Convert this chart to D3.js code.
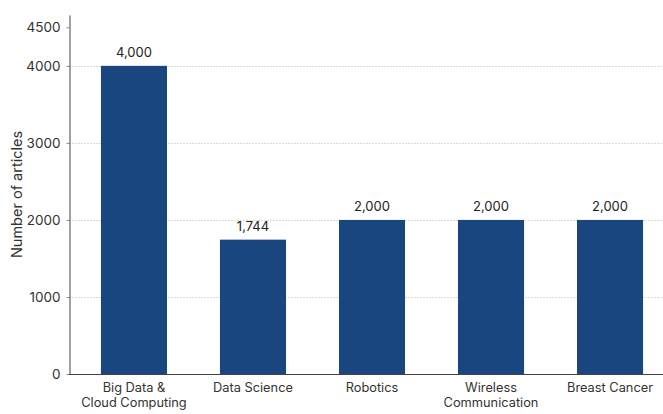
<!DOCTYPE html>
<html>
<head>
<meta charset="utf-8">
<script src="https://cdn.jsdelivr.net/npm/d3@7"></script>
<style>
  html, body { margin: 0; padding: 0; background: #fff; }
  svg { display: block; font-family: Inter, "Liberation Sans", sans-serif; }
</style>
</head>
<body>
<svg id="chart" width="663" height="414"></svg>
<script>
// Articles per research topic
const categories = ["Big Data & Cloud Computing", "Data Science", "Robotics", "Wireless Communication", "Breast Cancer"];
const categoryLines = [["Big Data &", "Cloud Computing"], ["Data Science"], ["Robotics"], ["Wireless", "Communication"], ["Breast Cancer"]];
const articleCounts = [4000, 1744, 2000, 2000, 2000];
const yTicks = [0, 1000, 2000, 3000, 4000, 4500];
const gridTicks = [1000, 2000, 3000, 4000];

const svg = d3.select("#chart");
const width = 663, height = 414;
const margin = { left: 69, right: 0, top: 15, bottom: 40 };

const x = d3.scaleBand()
  .domain(categories)
  .range([70, 674])
  .paddingInner(0.445)
  .paddingOuter(0.26);

const y = d3.scaleLinear()
  .domain([0, 4660])
  .range([374, 15]);

// Horizontal gridlines
svg.append("g")
  .selectAll("line")
  .data(gridTicks)
  .join("line")
  .attr("x1", margin.left)
  .attr("x2", width)
  .attr("y1", d => Math.round(y(d)) + 0.5)
  .attr("y2", d => Math.round(y(d)) + 0.5)
  .attr("stroke", "#d9d9d9")
  .attr("stroke-width", 1)
  .attr("stroke-dasharray", "2,1");

// Bars
svg.append("g")
  .selectAll("rect")
  .data(articleCounts)
  .join("rect")
  .attr("x", (d, i) => x(categories[i]))
  .attr("width", x.bandwidth())
  .attr("y", d => y(d))
  .attr("height", d => y(0) - y(d))
  .attr("fill", "#1a4680");

// Value labels
svg.append("g")
  .selectAll("text")
  .data(articleCounts)
  .join("text")
  .attr("x", (d, i) => x(categories[i]) + x.bandwidth() / 2)
  .attr("y", d => y(d) - 8.5)
  .attr("text-anchor", "middle")
  .attr("font-size", 13)
  .attr("fill", "#222")
  .text(d => d3.format(",")(d));

// Y axis
const yAxis = svg.append("g")
  .attr("transform", `translate(${margin.left + 0.5},0)`)
  .call(d3.axisLeft(y).tickValues(yTicks).tickSize(3).tickSizeOuter(0).tickPadding(6).tickFormat(d3.format("d")));
yAxis.select(".domain").attr("stroke", "#444");
yAxis.selectAll(".tick line").attr("stroke", "#888");
yAxis.selectAll(".tick text")
  .attr("font-size", 13.5)
  .attr("font-family", "Inter, 'Liberation Sans', sans-serif")
  .attr("fill", "#333");

// X baseline
svg.append("line")
  .attr("x1", margin.left)
  .attr("x2", width)
  .attr("y1", y(0) + 0.5)
  .attr("y2", y(0) + 0.5)
  .attr("stroke", "#444");

// Category labels
const xl = svg.append("g")
  .selectAll("text")
  .data(categoryLines)
  .join("text")
  .attr("x", (d, i) => x(categories[i]) + x.bandwidth() / 2)
  .attr("y", 392)
  .attr("text-anchor", "middle")
  .attr("font-size", 12.8)
  .attr("fill", "#333");
xl.selectAll("tspan")
  .data(d => d)
  .join("tspan")
  .attr("x", function () { return d3.select(this.parentNode).attr("x"); })
  .attr("dy", (d, i) => i === 0 ? 0 : 15)
  .text(d => d);

// Y axis title
svg.append("text")
  .attr("transform", `translate(22,${(y(0) + 15) / 2}) rotate(-90)`)
  .attr("text-anchor", "middle")
  .attr("font-size", 14.5)
  .attr("fill", "#333")
  .text("Number of articles");
</script>
</body>
</html>
